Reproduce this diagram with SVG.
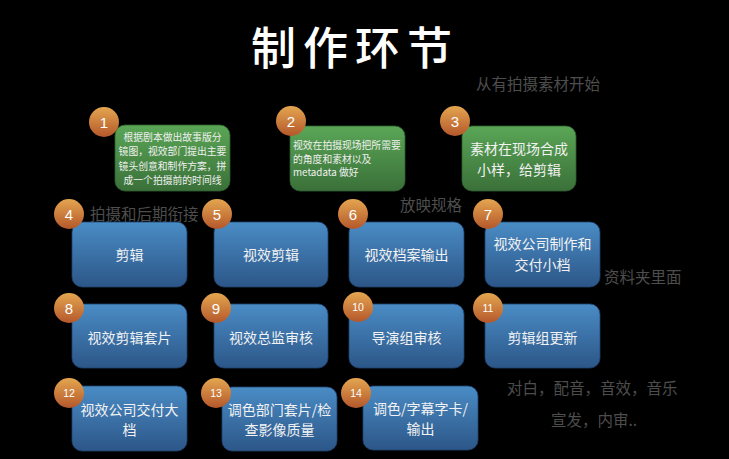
<svg xmlns="http://www.w3.org/2000/svg" width="729" height="459" viewBox="0 0 729 459">
<defs>
<linearGradient id="gBlue" x1="0" y1="0" x2="0" y2="1"><stop offset="0" stop-color="#4a8cc5"/><stop offset="1" stop-color="#2c5688"/></linearGradient>
<linearGradient id="gGreen" x1="0" y1="0" x2="0" y2="1"><stop offset="0" stop-color="#5aa656"/><stop offset="1" stop-color="#3a7039"/></linearGradient>
<linearGradient id="gOrange" x1="0" y1="0" x2="0" y2="1"><stop offset="0" stop-color="#e4a650"/><stop offset="1" stop-color="#b4572b"/></linearGradient>
</defs>
<style>
text{font-family:"Noto Sans CJK SC","Noto Sans",sans-serif;dominant-baseline:central}
.blue{fill:url(#gBlue);stroke:#1f4470;stroke-width:0.8}
.green{fill:url(#gGreen);stroke:#2f5e2e;stroke-width:0.8}
.num{fill:url(#gOrange)}
.nt{fill:#ffffff;font-family:"Liberation Sans",Arial,sans-serif;font-size:15px;text-anchor:middle}
.ns{font-size:10.5px}
.bt{fill:#f2f2f2;font-size:14px;text-anchor:middle}
.st{fill:#f0f0f0;font-size:9.8px}
.note{fill:#4d4d4d;font-size:15.5px}
</style>
<rect width="729" height="459" fill="#000000"/>
<text x="355" y="45" fill="#ffffff" font-size="45" font-weight="500" text-anchor="middle" letter-spacing="7">制作环节</text>
<text class="note" x="476" y="83">从有拍摄素材开始</text>
<text class="note" x="90" y="213">拍摄和后期衔接</text>
<text class="note" x="400" y="204">放映规格</text>
<text class="note" x="604" y="276">资料夹里面</text>
<text class="note" x="507" y="387">对白，配音，音效，音乐</text>
<text class="note" x="551" y="419">宣发，内审..</text>

<g id="n1">
<rect class="green" x="115" y="125" width="115" height="66" rx="10"/>
<circle class="num" cx="104" cy="122" r="15"/>
<text class="nt" x="104" y="122">1</text>
<text class="st" x="172.5" y="137" text-anchor="middle">根据剧本做出故事版分</text>
<text class="st" x="172.5" y="151.3" text-anchor="middle">镜图，视效部门提出主要</text>
<text class="st" x="172.5" y="165.5" text-anchor="middle">镜头创意和制作方案，拼</text>
<text class="st" x="172.5" y="179.5" text-anchor="middle">成一个拍摄前的时间线</text>
</g>
<g id="n2">
<rect class="green" x="290" y="126" width="115" height="65" rx="10"/>
<circle class="num" cx="291" cy="121" r="15"/>
<text class="nt" x="291" y="121">2</text>
<text class="st" x="293" y="145">视效在拍摄现场把所需要</text>
<text class="st" x="293" y="158.7">的角度和素材以及</text>
<text class="st" x="293" y="172.4">metadata 做好</text>
</g>
<g id="n3">
<rect class="green" x="462" y="126" width="114" height="65" rx="10"/>
<circle class="num" cx="455" cy="121" r="15"/>
<text class="nt" x="455" y="121">3</text>
<text class="bt" x="519" y="148">素材在现场合成</text>
<text class="bt" x="519" y="168.5">小样，给剪辑</text>
</g>

<g id="n4">
<rect class="blue" x="72" y="222" width="115" height="65" rx="10"/>
<circle class="num" cx="69" cy="214" r="15"/>
<text class="nt" x="69" y="214">4</text>
<text class="bt" x="129.5" y="254">剪辑</text>
</g>
<g id="n5">
<rect class="blue" x="214" y="222" width="114" height="65" rx="10"/>
<circle class="num" cx="217" cy="214" r="15"/>
<text class="nt" x="217" y="214">5</text>
<text class="bt" x="271" y="254">视效剪辑</text>
</g>
<g id="n6">
<rect class="blue" x="349" y="222" width="115" height="65" rx="10"/>
<circle class="num" cx="353" cy="214" r="15"/>
<text class="nt" x="353" y="214">6</text>
<text class="bt" x="406.5" y="254">视效档案输出</text>
</g>
<g id="n7">
<rect class="blue" x="485" y="222" width="115" height="65" rx="10"/>
<circle class="num" cx="488" cy="214" r="15"/>
<text class="nt" x="488" y="214">7</text>
<text class="bt" x="542.5" y="243">视效公司制作和</text>
<text class="bt" x="542.5" y="264">交付小档</text>
</g>

<g id="n8">
<rect class="blue" x="72" y="304" width="115" height="64" rx="10"/>
<circle class="num" cx="69" cy="308" r="15"/>
<text class="nt" x="69" y="308">8</text>
<text class="bt" x="129.5" y="337">视效剪辑套片</text>
</g>
<g id="n9">
<rect class="blue" x="214" y="304" width="114" height="64" rx="10"/>
<circle class="num" cx="216" cy="308" r="15"/>
<text class="nt" x="216" y="308">9</text>
<text class="bt" x="271" y="337">视效总监审核</text>
</g>
<g id="n10">
<rect class="blue" x="349" y="304" width="115" height="64" rx="10"/>
<circle class="num" cx="358" cy="307" r="15"/>
<text class="nt ns" x="358" y="307">10</text>
<text class="bt" x="406.5" y="337">导演组审核</text>
</g>
<g id="n11">
<rect class="blue" x="485" y="304" width="115" height="64" rx="10"/>
<circle class="num" cx="488" cy="308" r="15"/>
<text class="nt ns" x="488" y="308">11</text>
<text class="bt" x="542.5" y="337">剪辑组更新</text>
</g>

<g id="n12">
<rect class="blue" x="72" y="386" width="115" height="65" rx="10"/>
<circle class="num" cx="69" cy="393" r="15"/>
<text class="nt ns" x="69" y="393">12</text>
<text class="bt" x="129.5" y="409">视效公司交付大</text>
<text class="bt" x="129.5" y="428.5">档</text>
</g>
<g id="n13">
<rect class="blue" x="222" y="387" width="115" height="64" rx="10"/>
<circle class="num" cx="216" cy="393" r="15"/>
<text class="nt ns" x="216" y="393">13</text>
<text class="bt" x="279.5" y="409">调色部门套片/检</text>
<text class="bt" x="279.5" y="429">查影像质量</text>
</g>
<g id="n14">
<rect class="blue" x="363" y="386" width="115" height="64" rx="10"/>
<circle class="num" cx="356" cy="393" r="15"/>
<text class="nt ns" x="356" y="393">14</text>
<text class="bt" x="420.5" y="408">调色/字幕字卡/</text>
<text class="bt" x="420.5" y="428">输出</text>
</g>
</svg>
